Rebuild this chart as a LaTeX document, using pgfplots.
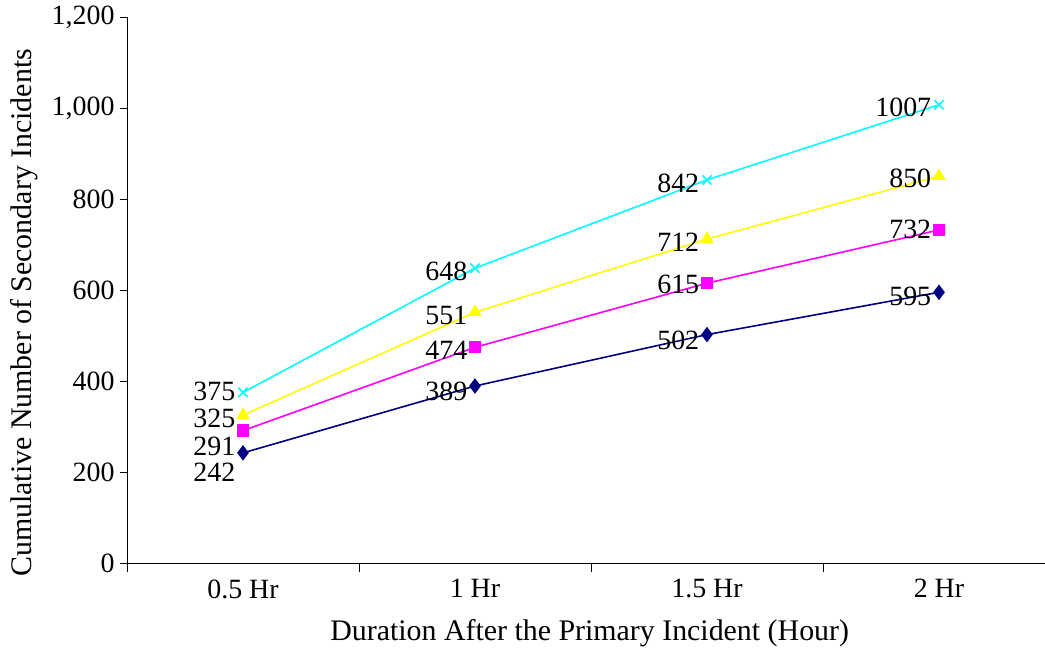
\documentclass[border=0pt]{standalone}
\usepackage{pgfplots}
\pgfplotsset{compat=1.18}
\usepackage{pgfplotstable}
\usepackage{fontspec}
\setmainfont{Liberation Serif}
\definecolor{cCyan}{RGB}{0,255,255}
\definecolor{cYellow}{RGB}{255,255,0}
\definecolor{cMag}{RGB}{255,0,255}
\definecolor{cNavy}{RGB}{0,0,128}
\pgfplotstableread{
x y dy
0 375 1
1 648 -3
2 842 -3
3 1007 -2
}\cyanT
\pgfplotstableread{
x y dy
0 325 -3
1 551 -3
2 712 -3
3 850 -2
}\yelT
\pgfplotstableread{
x y dy
0 291 -15
1 474 -3
2 615 -1
3 732 1
}\magT
\pgfplotstableread{
x y dy
0 242 -19
1 389 -5
2 502 -5
3 595 -4
}\navT
\begin{document}
\begin{tikzpicture}
\begin{axis}[
  at={(127bp,89bp)}, anchor=south west,
  scale only axis, width=918bp, height=546bp,
  xmin=-0.5, xmax=3.457, ymin=0, ymax=1200,
  axis x line*=bottom, axis y line*=left,
  axis line style={black, line width=0.9pt},
  tick align=outside,
  xtick={0,1,2,3},
  xticklabels={0.5 Hr,1 Hr,1.5 Hr,2 Hr},
  minor xtick={-0.5,0.5,1.5,2.5},
  major x tick style={draw=none},
  minor tick length=9bp,
  major tick length=7bp,
  tick style={black, line width=0.8pt},
  ytick={0,200,400,600,800,1000,1200},
  /pgf/number format/assume math mode=true,
  /pgf/number format/1000 sep={,},
  ticklabel style={font=\fontsize{28}{30}\selectfont},
  xticklabel style={yshift=-6bp},
  yticklabel style={xshift=-2bp},
  xlabel={Duration After the Primary Incident (Hour)},
  ylabel={Cumulative Number of Secondary Incidents},
  every axis x label/.style={at={(axis description cs:0.504,-0.128)}, anchor=center, font=\fontsize{30}{32}\selectfont},
  every axis y label/.style={at={(axis description cs:-0.112,0.458)}, rotate=90, anchor=center, font=\fontsize{30}{32}\selectfont},
  nodes near coords,
  visualization depends on={\thisrow{dy} \as \dy},
  every node near coord/.append style={font=\fontsize{28}{30}\selectfont, anchor=east, inner sep=0pt, text height=19bp, text depth=0bp, xshift=-7bp, yshift=\dy bp, black, /pgf/number format/1000 sep={}},
  clip=false,
]
\addplot[cCyan, line width=1.6pt, mark=x, mark size=6.5bp, mark options={line width=1.6pt}] table[x=x,y=y] {\cyanT};
\addplot[cYellow, line width=1.6pt, mark=triangle*, mark size=6.3bp] table[x=x,y=y] {\yelT};
\addplot[cMag, line width=1.6pt, mark=square*, mark size=5.3bp] table[x=x,y=y] {\magT};
\addplot[cNavy, line width=1.6pt, mark=diamond*, mark size=6.5bp] table[x=x,y=y] {\navT};
\end{axis}
\pgfresetboundingbox
\path[use as bounding box] (0,0) rectangle (1045bp,652bp);
\end{tikzpicture}
\end{document}
